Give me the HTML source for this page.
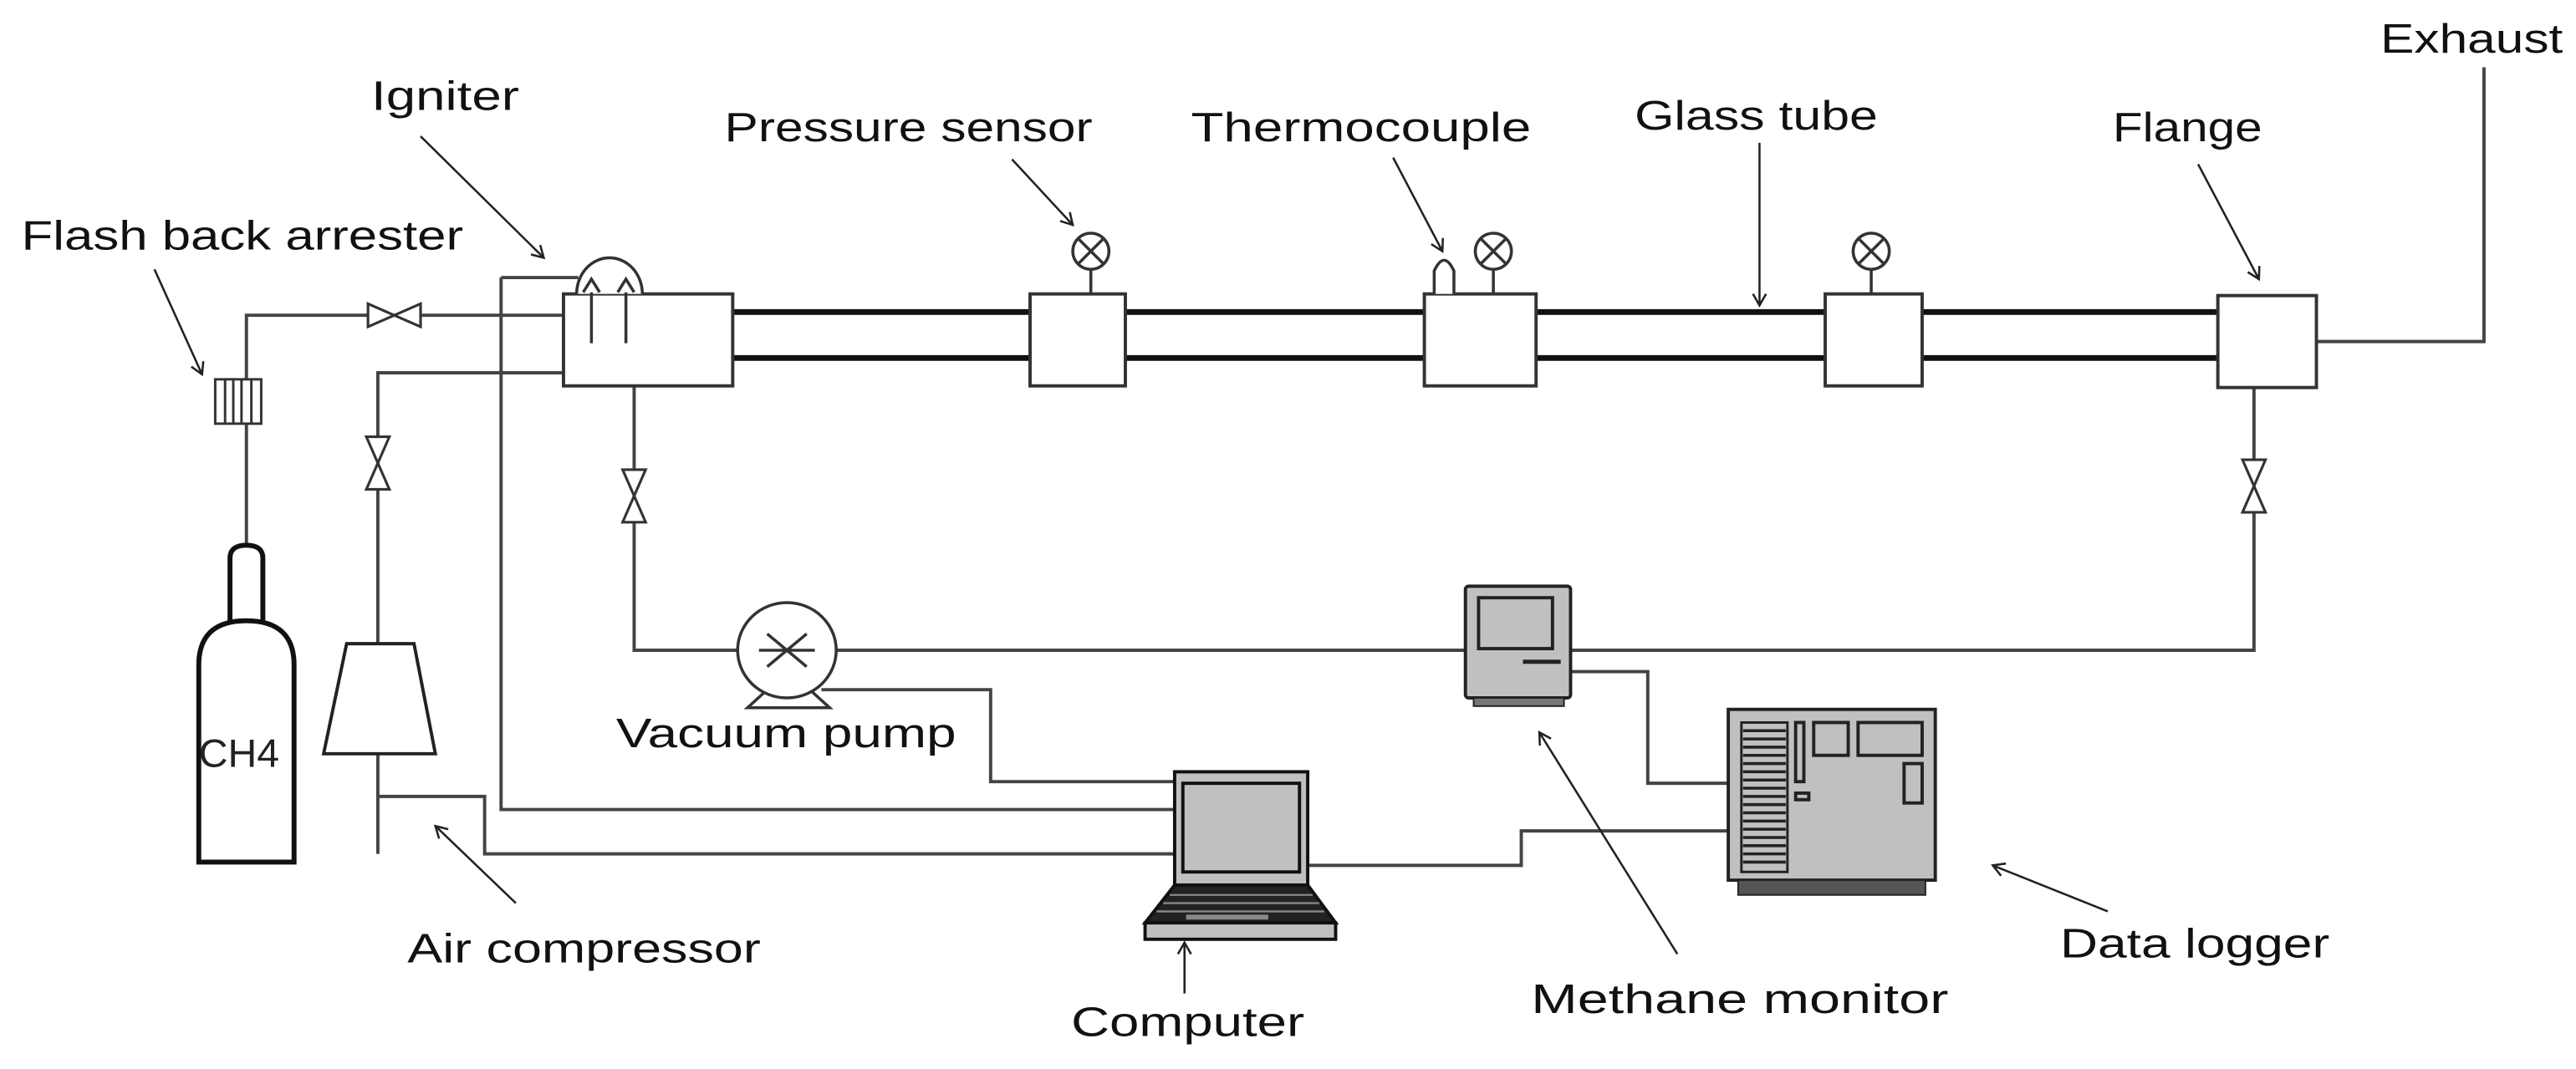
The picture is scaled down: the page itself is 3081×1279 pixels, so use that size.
<!DOCTYPE html>
<html><head><meta charset="utf-8"><style>html,body{margin:0;padding:0;background:#fff}svg{display:block}</style></head>
<body>
<svg width="3081" height="1279" viewBox="0 0 1568 651" preserveAspectRatio="none" xmlns="http://www.w3.org/2000/svg" font-family="Liberation Sans, sans-serif" font-size="25" fill="none" stroke-linecap="butt">
<defs><marker id="a" markerWidth="10" markerHeight="10" refX="8" refY="5" orient="auto" markerUnits="userSpaceOnUse"><path d="M1,1 L8,5 L1,9" stroke="#222" stroke-width="1.3" fill="none"/></marker></defs>
<g stroke="#444" stroke-width="2">
<path d="M150,332 V192 H343"/>
<path d="M230,392 V227 H343"/>
<path d="M386,235 V396 H450"/>
<path d="M509,396 H892 M956,396 H1372 V236"/>
<path d="M1410,208 H1512 V41"/>
<path d="M305,169 H352 M305,169 V493 H715"/>
<path d="M230,459 V520 M230,485 H295 V520 H715"/>
<path d="M500,420 H603 V476 H715"/>
<path d="M956,409 H1003 V477 H1052"/>
<path d="M796,527 H926 V506 H1052"/>
</g>
<g stroke="#111" stroke-width="3.5">
<path d="M446,190 H627 M446,218 H627 M685,190 H867 M685,218 H867 M935,190 H1111 M935,218 H1111 M1170,190 H1350 M1170,218 H1350"/>
</g>
<g stroke="#333" stroke-width="2" fill="#fff">
<rect x="343" y="179" width="103" height="56"/>
<rect x="627" y="179" width="58" height="56"/>
<rect x="867" y="179" width="68" height="56"/>
<rect x="1111" y="179" width="59" height="56"/>
<rect x="1350" y="180" width="60" height="56"/>
</g>
<g stroke="#333" stroke-width="1.8" fill="#fff">
<path d="M664,164 V179 M909,164 V179 M1139,164 V179"/>
<circle cx="664" cy="153" r="11"/><circle cx="909" cy="153" r="11"/><circle cx="1139" cy="153" r="11"/>
<path d="M656,145 L672,161 M672,145 L656,161 M901,145 L917,161 M917,145 L901,161 M1131,145 L1147,161 M1147,145 L1131,161"/>
<path d="M873,179 V165 Q879,152 885,165 V179"/>
<path d="M351,179 A20,22 0 0 1 391,179"/>
<path d="M360,170 V209 M381,170 V209"/>
<path d="M355,178 L360,170 L365,178 M376,178 L381,170 L386,178"/>
</g>
<g stroke="#333" stroke-width="1.6" fill="#fff">
<path d="M224,185 V199 L256,185 V199 Z"/>
<path d="M223,266 H237 L223,298 H237 Z"/>
<path d="M379,286 H393 L379,318 H393 Z"/>
<path d="M1365,280 H1379 L1365,312 H1379 Z"/>
</g>
<g stroke="#333" stroke-width="1.5" fill="#fff"><rect x="131" y="231" width="28" height="27"/><path d="M137,231V258M142,231V258M147,231V258M153,231V258"/></g>
<g stroke="#111" stroke-width="3" fill="#fff">
<path d="M140,378 V340 Q140,332 150,332 Q160,332 160,340 V378"/>
<path d="M121,525 V405 Q121,378 150,378 Q179,378 179,405 V525 Z"/>
</g>
<text x="121" y="467" fill="#222" font-size="24" textLength="49" lengthAdjust="spacingAndGlyphs">CH4</text>
<path d="M211,392 H252 L265,459 H197 Z" stroke="#222" stroke-width="2" fill="#fff"/>
<g stroke="#333" stroke-width="1.8" fill="#fff">
<path d="M455,431 L466,421 H494 L505,431 Z"/>
<ellipse cx="479" cy="396" rx="30" ry="29"/>
<path d="M462,396 H496 M467,386 L491,406 M491,386 L467,406"/>
</g>
<g stroke="#222" stroke-width="2">
<rect x="892" y="357" width="64" height="68" rx="2" fill="#c0c0c0"/>
<rect x="900" y="364" width="45" height="31" fill="#c0c0c0"/>
<path d="M927,403 H950" stroke-width="2.5"/>
<rect x="897" y="425" width="55" height="5" fill="#777" stroke-width="1"/>
</g>
<g stroke="#111" stroke-width="2">
<rect x="715" y="470" width="81" height="69" fill="#c0c0c0"/>
<rect x="720" y="477" width="71" height="54" fill="#c0c0c0"/>
<path d="M715,539 H796 L813,562 H697 Z" fill="#222"/>
<path d="M712,545 H799 M708,550 H803 M704,555 H806" stroke="#888" stroke-width="1.2"/>
<rect x="722" y="557" width="50" height="3" fill="#888" stroke="none"/>
<rect x="697" y="562" width="116" height="10" fill="#c0c0c0"/>
</g>
<g stroke="#222" stroke-width="2">
<rect x="1052" y="432" width="126" height="104" fill="#c0c0c0"/>
<rect x="1058" y="536" width="114" height="9" fill="#555" stroke-width="1"/>
<rect x="1060" y="440" width="28" height="91" fill="#c0c0c0" stroke-width="1.5"/>
<path d="M1061,445H1087M1061,450H1087M1061,455H1087M1061,460H1087M1061,465H1087M1061,470H1087M1061,475H1087M1061,480H1087M1061,485H1087M1061,490H1087M1061,495H1087M1061,500H1087M1061,505H1087M1061,510H1087M1061,515H1087M1061,520H1087M1061,525H1087" stroke="#222" stroke-width="1.8"/>
<rect x="1093" y="440" width="5" height="36" fill="#c0c0c0"/>
<rect x="1093" y="483" width="8" height="4" fill="#c0c0c0"/>
<rect x="1104" y="440" width="21" height="20" fill="#c0c0c0"/>
<rect x="1131" y="440" width="39" height="20" fill="#c0c0c0"/>
<rect x="1159" y="465" width="11" height="24" fill="#c0c0c0"/>
</g>
<g stroke="#222" stroke-width="1.3" marker-end="url(#a)">
<path d="M94,164 L123,228"/>
<path d="M256,83 L331,157"/>
<path d="M616,97 L653,137"/>
<path d="M848,96 L878,153"/>
<path d="M1071,87 V186"/>
<path d="M1338,100 L1375,170"/>
<path d="M314,550 L265,503"/>
<path d="M721,605 V574"/>
<path d="M1021,581 L937,446"/>
<path d="M1283,555 L1213,527"/>
</g>
<g fill="#111" stroke="none" font-size="25">
<text x="226" y="67" textLength="90" lengthAdjust="spacingAndGlyphs">Igniter</text>
<text x="13" y="152" textLength="269" lengthAdjust="spacingAndGlyphs">Flash back arrester</text>
<text x="441" y="86" textLength="224" lengthAdjust="spacingAndGlyphs">Pressure sensor</text>
<text x="725" y="86" textLength="207" lengthAdjust="spacingAndGlyphs">Thermocouple</text>
<text x="995" y="79" textLength="148" lengthAdjust="spacingAndGlyphs">Glass tube</text>
<text x="1286" y="86" textLength="91" lengthAdjust="spacingAndGlyphs">Flange</text>
<text x="1449" y="32" textLength="111" lengthAdjust="spacingAndGlyphs">Exhaust</text>
<text x="375" y="455" textLength="207" lengthAdjust="spacingAndGlyphs">Vacuum pump</text>
<text x="248" y="586" textLength="215" lengthAdjust="spacingAndGlyphs">Air compressor</text>
<text x="652" y="631" textLength="142" lengthAdjust="spacingAndGlyphs">Computer</text>
<text x="932" y="617" textLength="254" lengthAdjust="spacingAndGlyphs">Methane monitor</text>
<text x="1254" y="583" textLength="164" lengthAdjust="spacingAndGlyphs">Data logger</text>
</g>
</svg>
</body></html>
